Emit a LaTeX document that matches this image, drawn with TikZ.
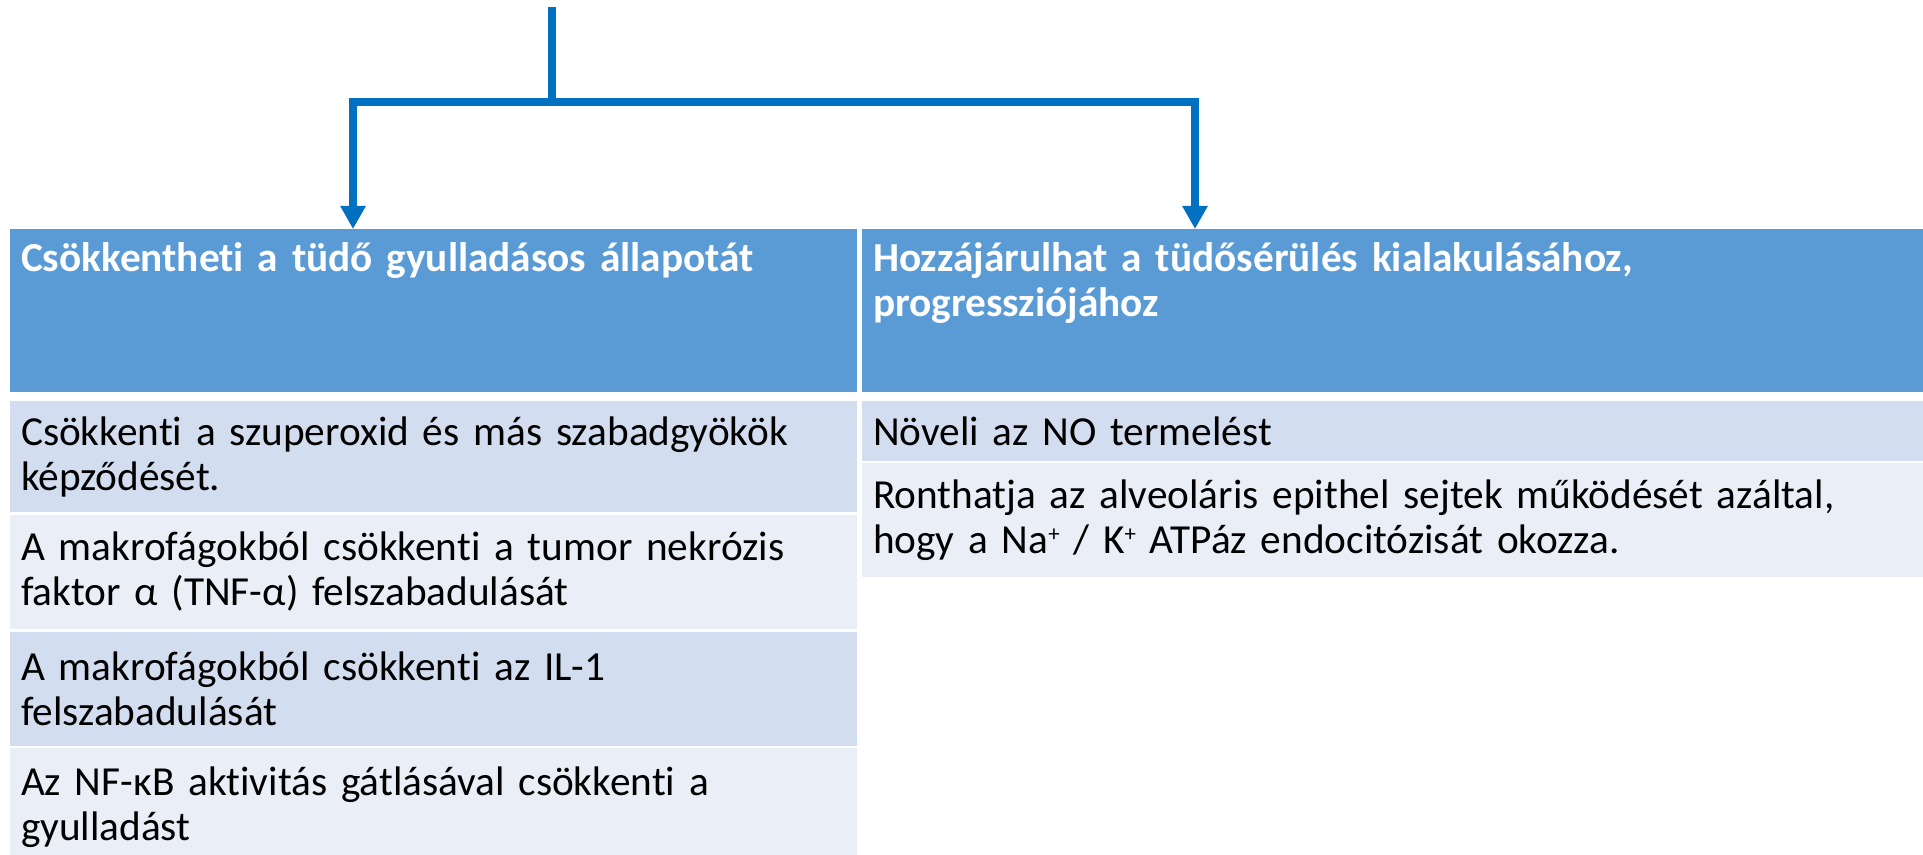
\documentclass[tikz,border=0pt]{standalone}
\usepackage{fontspec}
\setmainfont{Carlito}[Ligatures=NoCommon]
\usepackage{xcolor}
\usepackage{tikz}
\usetikzlibrary{arrows.meta,positioning}

\definecolor{hdrblue}{HTML}{5B9BD5}
\definecolor{rowdark}{HTML}{D2DEEF}
\definecolor{rowlight}{HTML}{EAEFF7}
\definecolor{flowblue}{HTML}{0070C0}

\newcommand{\ionplus}{\raisebox{0.6ex}{\fontsize{13}{13}\selectfont +}}

\begin{document}
\begin{tikzpicture}[
    cell/.style={rectangle, outer sep=0pt, inner xsep=0.22cm, inner ysep=0pt, align=left,
        anchor=north west, font=\fontsize{23.5}{25.6}\selectfont},
    hdr/.style={cell, fill=hdrblue, text=white, font=\bfseries\fontsize{23.5}{25.6}\selectfont,
        text height=0.86cm, text depth=2.40cm},
    dark/.style={cell, fill=rowdark},
    light/.style={cell, fill=rowlight},
    leftcol/.style={text width=16.50cm},
    rightcol/.style={text width=20.78cm},
    flow/.style={draw=flowblue, line width=0.16cm}
]
    \clip (0,0) rectangle (38.46,-17.1);

    % column headers
    \node[hdr, leftcol] (hdrL) at (0.2,-4.58) {Csökkentheti a tüdő gyulladásos állapotát};
    \node[hdr, rightcol, right=0.1cm of hdrL] (hdrR) {Hozzájárulhat a tüdősérülés kialakulásához,\\ progressziójához};

    % left column
    \node[dark, leftcol, minimum height=2.22cm, below=0.18cm of hdrL] (lrow1) {Csökkenti a szuperoxid és más szabadgyökök\\ képződését.};
    \node[light, leftcol, minimum height=2.28cm, below=0.06cm of lrow1] (lrow2) {A makrofágokból csökkenti a tumor nekrózis\\ faktor α (TNF-α) felszabadulását};
    \node[dark, leftcol, minimum height=2.28cm, below=0.06cm of lrow2] (lrow3) {A makrofágokból csökkenti az IL-1\\ felszabadulását};
    \node[light, leftcol, minimum height=2.36cm, below=0.04cm of lrow3] (lrow4) {Az NF-κB aktivitás gátlásával csökkenti a\\ gyulladást};

    % right column
    \node[dark, rightcol, minimum height=1.20cm, below=0.18cm of hdrR] (rrow1) {Növeli az NO termelést};
    \node[light, rightcol, minimum height=2.28cm, below=0.04cm of rrow1] (rrow2) {Ronthatja az alveoláris epithel sejtek működését azáltal,\\ hogy a Na\ionplus{} / K\ionplus{} ATPáz endocitózisát okozza.};

    % branching arrow
    \coordinate (src) at (11.04,-0.14);
    \coordinate (fork) at (11.04,-2.04);
    \draw[flow] (src) -- (fork);
    \draw[flow, -{Triangle[length=0.46cm, width=0.48cm]}] (fork) -| ([xshift=-1.61cm]hdrL.north);
    \draw[flow, -{Triangle[length=0.46cm, width=0.48cm]}] (fork) -| ([xshift=-3.95cm]hdrR.north);
\end{tikzpicture}
\end{document}
